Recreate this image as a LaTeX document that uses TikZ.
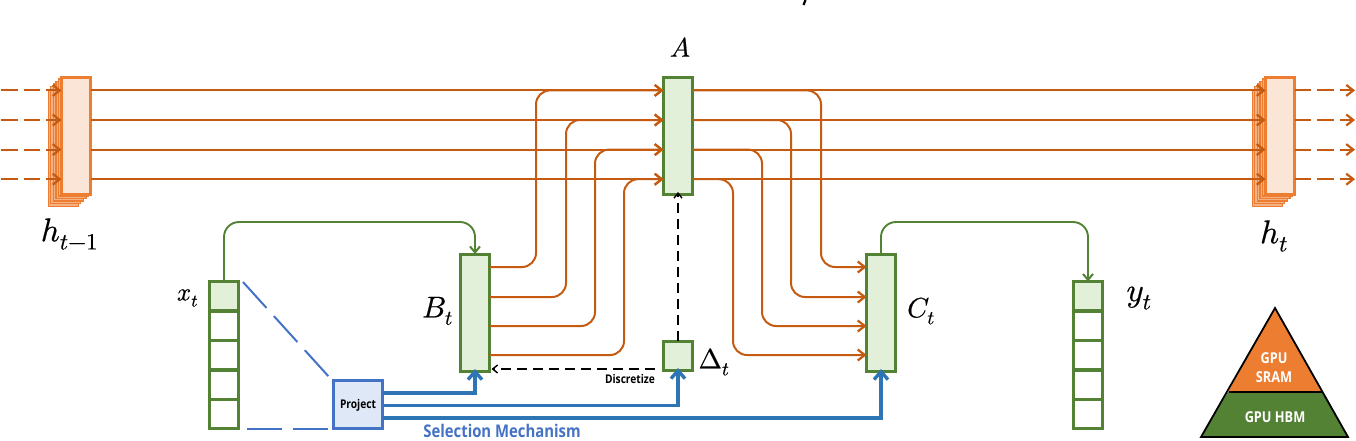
\documentclass[tikz,border=0pt]{standalone}
\usepackage{fontspec}
\usepackage{unicode-math}
\setmathfont[FakeBold=0.5]{Latin Modern Math}
\newfontfamily\labfont[FakeStretch=0.85]{Open Sans}
\usetikzlibrary{arrows.meta,calc}
\definecolor{wire}{HTML}{C55A11}
\definecolor{stackedge}{HTML}{ED7D31}
\definecolor{stackfill}{HTML}{FBE5D6}
\definecolor{stackmid}{HTML}{F4B183}
\definecolor{grn}{HTML}{548235}
\definecolor{grnfill}{HTML}{E2F0D9}
\definecolor{bluewire}{HTML}{2E75B6}
\definecolor{blueedge}{HTML}{4472C4}
\definecolor{bluefill}{HTML}{DEE8F6}
\tikzset{
  orangetip/.tip={Straight Barb[length=7pt,width=11pt,line width=2.2pt]},
  gbox/.style={draw=grn,fill=grnfill,line width=3pt,minimum width=29pt,minimum height=117pt,inner sep=0pt,outer sep=0pt},
  gsquare/.style={draw=grn,fill=grnfill,line width=3pt,minimum width=29pt,minimum height=29pt,inner sep=0pt,outer sep=0pt},
  gcell/.style={gsquare,fill=white},
  layer/.style={draw=stackedge,fill=stackmid,line width=1.3pt,minimum width=30pt,minimum height=117pt,inner sep=0pt,outer sep=0pt},
  frontlayer/.style={layer,fill=stackfill,line width=3pt,minimum width=29pt},
  wirein/.style={draw=wire,line width=2pt,-orangetip},
  wireplain/.style={draw=wire,line width=2pt},
  wiredash/.style={wireplain,dash pattern=on 16.5pt off 6pt},
  bendwire/.style={wirein,rounded corners=14pt},
  grnwire/.style={draw=grn,line width=1.9pt,rounded corners=15pt,-{Straight Barb[length=6pt,width=10pt,line width=2pt]}},
  bluewire/.style={draw=bluewire,line width=3.2pt,-{Straight Barb[length=8pt,width=14pt,line width=3.4pt]}},
  blackdash/.style={draw=black,line width=1.3pt,dash pattern=on 10pt off 6pt,-{Straight Barb[length=5pt,width=8pt,line width=1.4pt]}},
  bluedash/.style={draw=blueedge,line width=2pt,dash pattern=on 35pt off 11pt},
  tiny label/.style={font=\labfont\bfseries\fontsize{12}{14}\selectfont,inner sep=0pt},
  mathlabel/.style={font=\fontsize{30}{34}\selectfont,inner sep=0pt},
}
\begin{document}
\begin{tikzpicture}[x=1pt,y=-1pt]
\useasboundingbox (0,0) rectangle (1356,440);

% stacks behind h_{t-1} and h_t
\foreach \k/\d in {1/12.8,2/10.2,3/7.6,4/5,5/2.4}{
  \node[layer] (pback\k) at (76-\d,135+\d) {};
  \node[layer] (qback\k) at (1280-\d,135+\d) {};
}
\node[frontlayer] (hprev) at (76,135.5) {};
\node[frontlayer] (hnext) at (1280,135.5) {};
\node[gbox] (A) at (678,135.5) {};
\node[gbox] (B) at (475,312.5) {};
\node[gbox] (C) at (881,312.5) {};
\node[gsquare] (D) at (678,355.5) {};

% x_t and y_t
\node[gsquare] (x1) at (224,296) {};
\node[gsquare] (y1) at (1088,296) {};
\foreach \i/\yy in {2/325.6,3/355.2,4/384.8,5/414.4}{
  \node[gcell] (x\i) at (224,\yy) {};
  \node[gcell] (y\i) at (1088,\yy) {};
}
\node[gsquare,draw=blueedge,fill=bluefill,minimum width=49pt,minimum height=48pt] (P) at (358,404.5) {};
\node[tiny label] (Ptext) at (358,405) {Project};

% free ends and side ports
\foreach \i/\yy/\by/\ax in {1/90.4/267/536,2/120/297/566,3/149.6/326/595,4/179.2/355/624}{
  \coordinate (L\i) at (1,\yy);
  \coordinate (R\i) at (1355,\yy);
  \coordinate (Ltip\i) at (hprev.west |- L\i);
  \coordinate (Lout\i) at (hprev.east |- L\i);
  \coordinate (Rin\i) at (hnext.west |- L\i);
  \coordinate (Rout\i) at (hnext.east |- L\i);
  \coordinate (Ain\i) at (A.west |- L\i);
  \coordinate (Aout\i) at (A.east |- L\i);
  \coordinate (Bout\i) at (B.east |- 0,\by);
  \coordinate (Cin\i) at (C.west |- 0,\by);
  \coordinate (Bup\i) at (\ax,\by);
}
\foreach \i/\cx in {1/821,2/791,3/762,4/733}{
  \coordinate (Cup\i) at (\cx,0);
}

% long lines and dashed stubs
\foreach \i in {1,2,3,4}{
  \draw[wiredash,-orangetip] (L\i) -- (Ltip\i);
  \draw[wirein] (Lout\i) -- (Ain\i);
  \draw[wirein] (Aout\i) -- (Rin\i);
  \draw[wiredash,-orangetip] (Rout\i) -- (R\i);
  \draw[bendwire] (Bout\i) -- (Bup\i) |- (Ain\i);
  \draw[bendwire] (Aout\i) -| (Cup\i |- Cin\i) -- (Cin\i);
}

% green
\coordinate (gx) at (224,222);
\coordinate (gb) at (475,222);
\coordinate (gc) at (881,222);
\coordinate (gy) at (1088,222);
\draw[grnwire] (x1.north) -- (gx) -- (gb) -- (B.north);
\draw[grnwire] (C.north) -- (gc) -- (gy) -- (y1.north);

% blue
\coordinate (Pa) at (P.east |- 0,393);
\coordinate (Pb) at (P.east |- 0,405.5);
\coordinate (Pc) at (P.east |- 0,418);
\draw[bluewire] (Pa) -| ([yshift=2pt]B.south);
\draw[bluewire] (Pb) -| ([yshift=2pt]D.south);
\draw[bluewire] (Pc) -| ([yshift=2pt]C.south);
\node[tiny label,text=blueedge,font=\labfont\bfseries\fontsize{17.5}{20}\selectfont] (sel) at (502,431) {Selection Mechanism};

% black dashed
\coordinate (Dleft) at (655,369);
\draw[blackdash] (Dleft) -- ([xshift=2pt]B.east |- Dleft);
\draw[blackdash] (D.north) -- ([yshift=2pt]A.south);
\node[tiny label] (disc) at (630,378.5) {Discretize};

% blue dashed
\coordinate (xa) at (243,282);
\coordinate (xb) at (247,429);
\coordinate (pa) at (330,378);
\coordinate (pb) at (330,429);
\draw[bluedash] (xa) -- (pa);
\draw[bluedash] (xb) -- (pb);

% pyramid
\fill[stackedge] (1275,308) -- (1228,392) -- (1322,392) -- cycle;
\fill[grn] (1228,392) -- (1322,392) -- (1348,437) -- (1201,437) -- cycle;
\draw[black,line width=1.8pt,line join=miter] (1275,308) -- (1348,437) -- (1201,437) -- cycle;
\draw[black,line width=1.8pt] (1228.5,392) -- (1322,392);
\node[tiny label,text=white,align=center,font=\labfont\bfseries\fontsize{15}{19}\selectfont] (sram) at (1274,367.5) {GPU\\SRAM};
\node[tiny label,text=white,font=\labfont\bfseries\fontsize{15}{17}\selectfont] (hbm) at (1275,417) {GPU HBM};

% clipped fragment at the top edge
\draw[black,line width=2.2pt] (803.5,5) -- (805.5,0);

% math labels
\node[mathlabel,font=\fontsize{33}{36}\selectfont] (lhprev) at (69.5,234) {$h_{t-1}$};
\node[mathlabel,font=\fontsize{33}{36}\selectfont] (lhnext) at (1274,236) {$h_t$};
\node[mathlabel,font=\fontsize{27}{30}\selectfont] (lA) at (680,47) {$A$};
\node[mathlabel] (lB) at (437.5,311) {$B_t$};
\node[mathlabel,font=\fontsize{28}{32}\selectfont] (lC) at (921,311) {$C_t$};
\node[mathlabel,font=\fontsize{28}{32}\selectfont] (lD) at (714,362) {$\Delta_t$};
\node[mathlabel,font=\fontsize{25}{28}\selectfont] (lx) at (187.5,298) {$x_t$};
\node[mathlabel,font=\fontsize{33}{36}\selectfont] (ly) at (1139,298) {$y_t$};
\end{tikzpicture}
\end{document}
